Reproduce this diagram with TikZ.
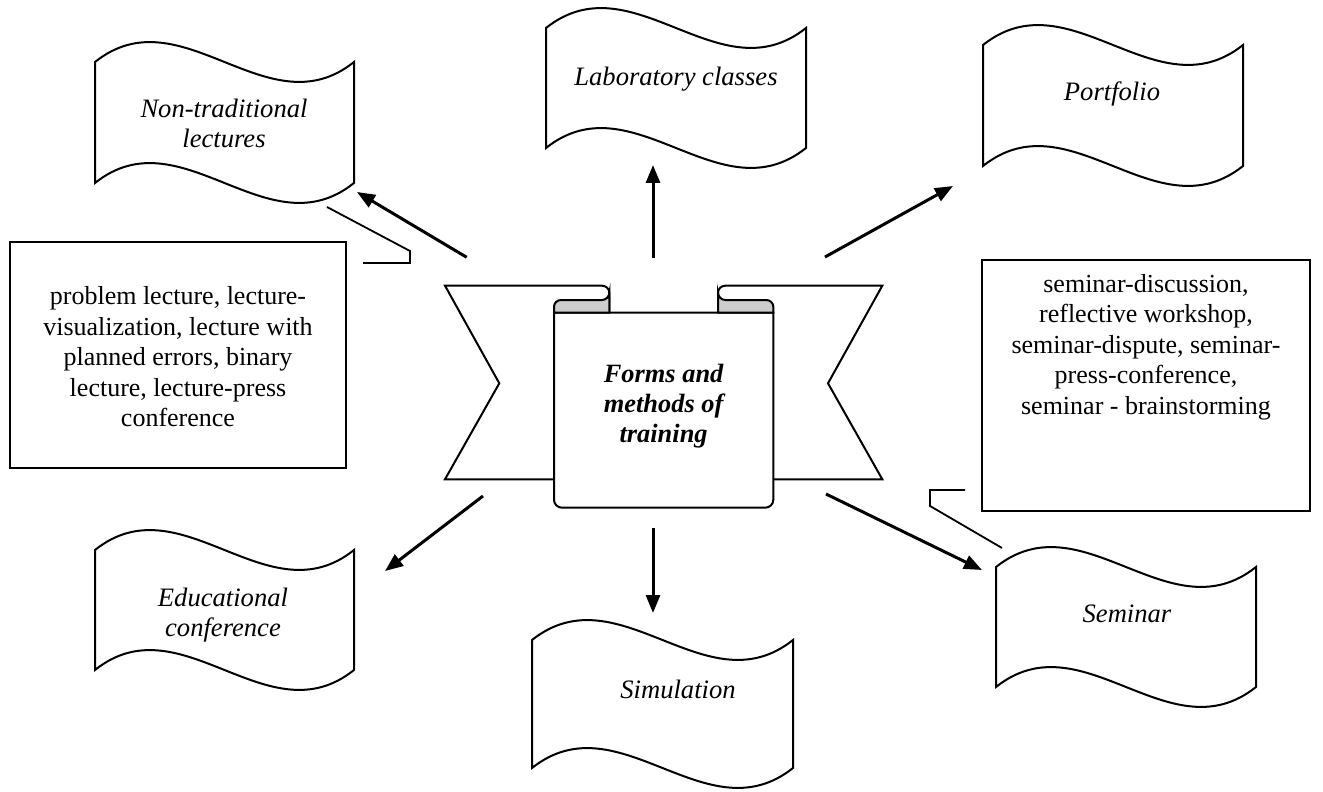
\documentclass[tikz,border=0pt]{standalone}
\usepackage{fontspec}
\setmainfont{Liberation Serif}
\usetikzlibrary{arrows.meta}

\tikzset{
  outline/.style={line width=1pt, draw=black, line join=miter},
  bannertext/.style={font=\fontsize{13.3}{15.25}\selectfont\itshape, align=center, inner sep=0pt},
  boxtext/.style={font=\fontsize{13}{15.25}\selectfont, align=center, inner sep=0pt},
  titletext/.style={font=\fontsize{13.2}{15}\selectfont\bfseries\itshape, align=center, inner sep=0pt},
  pointer/.style={line width=1.5pt, -{Triangle[length=9pt,width=7pt]}},
  leader/.style={line width=0.9pt},
  curl/.style={fill=black!20, draw=black, line width=1pt},
  textbox/.style={draw=black, line width=1pt, inner sep=0pt, outer sep=0pt},
}

% waving flag: left x, top y, width, height (y grows downwards)
\newcommand\waveflag[4]{%
  \draw[outline, fill=white] (#1,#2)
    .. controls ({#1+#3/3},{#2-69}) and ({#1+2*#3/3},{#2+69}) .. ({#1+#3},#2)
    -- ({#1+#3},{#2+#4})
    .. controls ({#1+2*#3/3},{#2+#4+69}) and ({#1+#3/3},{#2+#4-69}) .. (#1,{#2+#4})
    -- cycle;}

% one wing of the central ribbon (left side; the right one is its mirror image)
\newcommand\ribbonwing{%
  \draw[outline, fill=white] (445,285.7) -- (602,285.7)
    .. controls (605.9,285.7) and (609.3,288.8) .. (609.3,292.7)
    -- (609.3,479.3) -- (445,479.3) -- (499.3,383.3) -- cycle;}

% rolled-over top corner of the ribbon panel
\newcommand\ribboncurl{%
  \draw[curl] (554,312.7) -- (554,306.7)
    .. controls (554,303) and (557.3,300) .. (561,300) -- (602,300)
    .. controls (605.9,300) and (609.3,296.6) .. (609.3,292.7)
    -- (609.3,312.7) -- cycle;}

\begin{document}
\begin{tikzpicture}[x=0.5pt, y=-0.5pt]
\useasboundingbox (0,0) rectangle (1323,792);

% flags
\waveflag{95}{62}{259}{121}
\waveflag{546}{28}{260}{120}
\waveflag{983}{45}{260}{121}
\waveflag{95}{550}{259}{120}
\waveflag{532}{640}{261}{128}
\waveflag{996}{567}{260}{120}

\node[bannertext] (nt-label) at (224,123.5) {Non-traditional\\lectures};
\node[bannertext] (lab-label) at (676,79) {Laboratory classes};
\node[bannertext] (pf-label) at (1112,94) {Portfolio};
\node[bannertext] (edu-label) at (223,615) {Educational\\conference};
\node[bannertext] (sim-label) at (678,689) {Simulation};
\node[bannertext] (sem-label) at (1127,614) {Seminar};

% central ribbon
\ribbonwing
\begin{scope}[shift={(1327.3,0)}, xscale=-1]
  \ribbonwing
\end{scope}
\draw[outline, fill=white] (554,312.7) [rounded corners=4pt] -- (554,507.7)
  -- (773.3,507.7) [sharp corners] -- (773.3,312.7) -- cycle;
\ribboncurl
\begin{scope}[shift={(1327.3,0)}, xscale=-1]
  \ribboncurl
\end{scope}
\node[titletext] (title) at (663.6,406) {Forms and\\methods of\\training};

% text boxes
\node[textbox, minimum width=168pt, minimum height=113pt] (lbox) at (178,354.5) {};
\node[boxtext] (ltext) at (178,357) {problem lecture, lecture-\\visualization, lecture with\\planned errors, binary\\lecture, lecture-press\\conference};
\node[textbox, minimum width=164pt, minimum height=125.5pt] (rbox) at (1146,385.5) {};
\node[boxtext] (rtext) at (1146,347) {seminar-discussion,\\reflective workshop,\\seminar-dispute, seminar-\\press-conference,\\seminar - brainstorming};

% arrow ends
\coordinate (hub-nw) at (466.7,257.3);  \coordinate (nt-tip) at (357,192);
\coordinate (hub-n) at (653,258);       \coordinate (lab-tip) at (653,165);
\coordinate (hub-ne) at (825,257);      \coordinate (pf-tip) at (953,186);
\coordinate (hub-sw) at (483,496);      \coordinate (edu-tip) at (385,571);
\coordinate (hub-s) at (653,528);       \coordinate (sim-tip) at (653,613);
\coordinate (hub-se) at (826,494);      \coordinate (sem-tip) at (982,570);

\draw[pointer] (hub-nw) -- (nt-tip);
\draw[pointer] (hub-n) -- (lab-tip);
\draw[pointer] (hub-ne) -- (pf-tip);
\draw[pointer] (hub-sw) -- (edu-tip);
\draw[pointer] (hub-s) -- (sim-tip);
\draw[pointer] (hub-se) -- (sem-tip);

% leader lines from the boxes
\coordinate (lead-l1) at (327,207);
\coordinate (lead-l2) at (410,251);
\coordinate (lead-l3) at (410,263);
\coordinate (lead-l4) at (363,263);
\draw[leader] (lead-l1) -- (lead-l2) -- (lead-l3) -- (lead-l4);
\coordinate (lead-r1) at (965,490);
\coordinate (lead-r2) at (930,490);
\coordinate (lead-r3) at (930,506);
\coordinate (lead-r4) at (1002,548);
\draw[leader] (lead-r1) -- (lead-r2) -- (lead-r3) -- (lead-r4);
\end{tikzpicture}
\end{document}
